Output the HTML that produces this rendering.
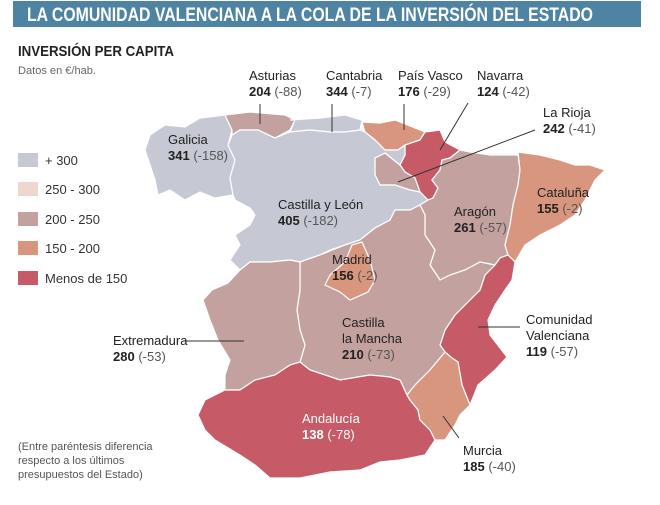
<!DOCTYPE html>
<html><head><meta charset="utf-8"><style>
body{margin:0;background:#fff;width:660px;height:500px;overflow:hidden;font-family:"Liberation Sans Narrow","Liberation Sans",sans-serif;}
</style></head><body>
<svg width="660" height="500" xmlns="http://www.w3.org/2000/svg" font-family="Liberation Sans Narrow, Liberation Sans, sans-serif">
<rect x="13" y="1" width="628" height="26" fill="#4e83a4"/>
<text x="27" y="21" font-size="19" font-weight="bold" fill="#fff" textLength="566" lengthAdjust="spacingAndGlyphs">LA COMUNIDAD VALENCIANA A LA COLA DE LA INVERSIÓN DEL ESTADO</text>
<text x="18" y="56" font-size="15" font-weight="bold" fill="#222" textLength="156" lengthAdjust="spacingAndGlyphs">INVERSIÓN PER CAPITA</text>
<text x="18" y="74" font-size="11" fill="#666" textLength="78" lengthAdjust="spacingAndGlyphs">Datos en €/hab.</text>
<g font-size="13" fill="#333">
<rect x="18" y="153" width="20" height="14" fill="#c6c9d4"/><text x="45" y="165">+ 300</text>
<rect x="18" y="182" width="20" height="14" fill="#efd6cf"/><text x="45" y="194">250 - 300</text>
<rect x="18" y="212" width="20" height="14" fill="#c3a19f"/><text x="45" y="224">200 - 250</text>
<rect x="18" y="241" width="20" height="14" fill="#d9967f"/><text x="45" y="253">150 - 200</text>
<rect x="18" y="271" width="20" height="14" fill="#c65a66"/><text x="45" y="283">Menos de 150</text>
</g>
<g stroke="#fff" stroke-width="1.2">
<path fill="#c6c9d4" d="M150,135 165,125 185,127 200,118 225,115 232,130 228,145 235,160 230,178 233,195 215,198 200,192 185,200 170,190 158,195 155,180 150,165 145,150Z"/>
<path fill="#c3a19f" d="M225,115 250,112 285,115 295,120 290,130 275,138 258,130 240,130 232,135 232,130Z"/>
<path fill="#c6c9d4" d="M290,120 320,118 345,115 362,120 360,130 345,132 330,132 310,130 290,132 295,120Z"/>
<path fill="#d9967f" d="M362,122 380,123 395,120 425,132 420,140 405,145 398,150 385,150 375,140 365,132Z"/>
<path fill="#c65a66" d="M425,132 440,130 445,142 460,150 450,158 442,160 440,170 432,180 438,188 433,198 428,200 420,192 415,178 405,172 400,165 405,155 405,145 420,140Z"/>
<path fill="#c3a19f" d="M375,158 385,153 400,165 405,172 415,178 420,192 410,190 395,185 380,185 375,175Z"/>
<path fill="#c6c9d4" d="M232,135 240,130 258,130 275,138 290,132 310,130 330,132 345,132 360,130 365,132 375,140 385,150 398,150 405,145 405,155 400,165 385,153 375,158 375,175 380,185 395,185 410,190 420,192 428,200 420,205 410,210 395,210 390,220 375,228 360,240 345,245 330,250 320,255 300,262 290,260 270,262 250,262 240,270 230,260 240,245 235,235 250,225 255,215 250,208 235,200 233,195 230,178 235,160 228,145Z"/>
<path fill="#c3a19f" d="M428,200 433,198 438,188 432,180 440,170 442,160 450,158 460,150 470,152 490,155 518,155 520,170 518,185 513,205 510,225 505,245 508,255 500,258 495,265 480,262 465,270 450,275 440,280 430,265 435,250 425,235 425,215 420,205Z"/>
<path fill="#d9967f" d="M518,152 540,155 560,160 575,165 590,165 605,170 595,180 585,200 575,215 560,225 540,235 525,245 515,262 508,255 505,245 510,225 513,205 518,185 520,170Z"/>
<path fill="#c65a66" d="M508,255 515,262 512,280 505,290 495,305 488,320 490,335 500,348 507,357 495,370 478,385 470,405 462,385 458,362 452,358 445,352 440,345 445,330 455,315 470,300 480,290 485,275 495,265 500,258Z"/>
<path fill="#c3a19f" d="M300,262 320,255 345,245 360,240 375,228 390,220 395,210 410,210 420,205 425,215 425,235 435,250 430,265 440,280 450,275 465,270 480,262 495,265 485,275 480,290 470,300 455,315 445,330 440,345 445,352 430,370 415,385 407,395 400,380 390,377 370,375 340,380 310,370 300,362 305,345 300,330 297,310 300,290Z"/>
<path fill="#d9967f" d="M330,275 345,262 352,245 362,242 370,260 375,280 368,292 350,300 340,292 325,285Z"/>
<path fill="#c3a19f" d="M240,270 250,262 270,262 290,260 300,262 300,290 297,310 300,330 305,345 300,362 290,365 275,375 255,380 240,390 225,390 225,375 230,360 218,340 210,320 203,300 212,290 228,283Z"/>
<path fill="#c65a66" d="M198,415 205,400 225,390 240,390 255,380 275,375 290,365 300,362 310,370 340,380 370,375 390,377 400,380 407,395 410,400 418,410 420,420 430,430 435,440 425,455 400,460 380,462 360,470 330,472 300,478 270,478 255,465 240,455 215,440 205,430Z"/>
<path fill="#d9967f" d="M407,395 415,385 430,370 445,352 452,358 458,362 462,385 470,405 460,415 455,425 445,440 435,440 430,430 420,420 418,410 410,400Z"/>
</g>
<g stroke="#333" stroke-width="1">
<line x1="260" y1="104" x2="260" y2="124"/>
<line x1="332" y1="104" x2="332" y2="132"/>
<line x1="404" y1="104" x2="404" y2="130"/>
<line x1="468" y1="103" x2="440" y2="150"/>
<line x1="535" y1="130" x2="398" y2="182"/>
<line x1="520" y1="327" x2="478" y2="327"/>
<line x1="183" y1="341" x2="244" y2="341"/>
<line x1="459" y1="438" x2="443" y2="416"/>
</g>
<g font-size="13" fill="#222">
<text x="249" y="80">Asturias</text><text x="249" y="96"><tspan font-weight="bold">204</tspan> <tspan fill="#555">(-88)</tspan></text>
<text x="326" y="80">Cantabria</text><text x="326" y="96"><tspan font-weight="bold">344</tspan> <tspan fill="#555">(-7)</tspan></text>
<text x="398" y="80">País Vasco</text><text x="398" y="96"><tspan font-weight="bold">176</tspan> <tspan fill="#555">(-29)</tspan></text>
<text x="477" y="80">Navarra</text><text x="477" y="96"><tspan font-weight="bold">124</tspan> <tspan fill="#555">(-42)</tspan></text>
<text x="543" y="117">La Rioja</text><text x="543" y="133"><tspan font-weight="bold">242</tspan> <tspan fill="#555">(-41)</tspan></text>
<text x="168" y="144">Galicia</text><text x="168" y="160"><tspan font-weight="bold">341</tspan> <tspan fill="#555">(-158)</tspan></text>
<text x="278" y="209">Castilla y León</text><text x="278" y="225"><tspan font-weight="bold">405</tspan> <tspan fill="#555">(-182)</tspan></text>
<text x="454" y="216">Aragón</text><text x="454" y="232"><tspan font-weight="bold">261</tspan> <tspan fill="#555">(-57)</tspan></text>
<text x="537" y="197">Cataluña</text><text x="537" y="213"><tspan font-weight="bold">155</tspan> <tspan fill="#555">(-2)</tspan></text>
<text x="332" y="264">Madrid</text><text x="332" y="280"><tspan font-weight="bold">156</tspan> <tspan fill="#555">(-2)</tspan></text>
<text x="342" y="327">Castilla</text><text x="342" y="343">la Mancha</text><text x="342" y="359"><tspan font-weight="bold">210</tspan> <tspan fill="#555">(-73)</tspan></text>
<text x="113" y="345">Extremadura</text><text x="113" y="361"><tspan font-weight="bold">280</tspan> <tspan fill="#555">(-53)</tspan></text>
<text x="526" y="324">Comunidad</text><text x="526" y="340">Valenciana</text><text x="526" y="356"><tspan font-weight="bold">119</tspan> <tspan fill="#555">(-57)</tspan></text>
<text x="302" y="423" fill="#fff">Andalucía</text><text x="302" y="439" fill="#fff"><tspan font-weight="bold">138</tspan> (-78)</text>
<text x="463" y="455">Murcia</text><text x="463" y="471"><tspan font-weight="bold">185</tspan> <tspan fill="#555">(-40)</tspan></text>
</g>
<g font-size="11" fill="#555">
<text x="18" y="450">(Entre paréntesis diferencia</text>
<text x="18" y="464">respecto a los últimos</text>
<text x="18" y="478">presupuestos del Estado)</text>
</g>
</svg>
</body></html>
